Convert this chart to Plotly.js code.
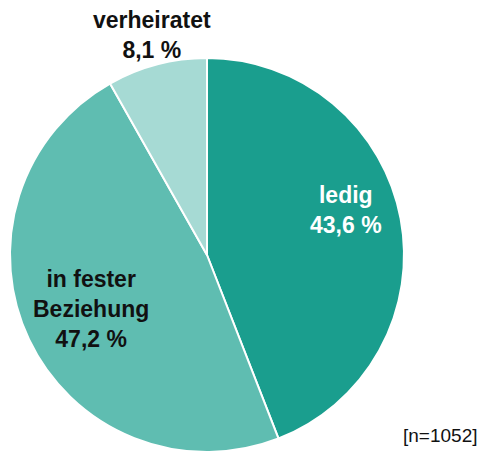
<!DOCTYPE html>
<html><head><meta charset="utf-8">
<script src="https://cdn.plot.ly/plotly-3.0.1.min.js"></script>
<style>html,body{margin:0;padding:0;background:#fff;}</style>
</head><body><div id="chart" style="width:485px;height:458px;"></div>
<script>
const categories = ["ledig", "in fester Beziehung", "verheiratet"];
const values = [43.6, 47.2, 8.1];
const labelTexts = ["ledig<br>43,6 %", "in fester<br>Beziehung<br>47,2 %", "verheiratet<br>8,1 %"];
const colors = ["#1a9e8e", "#5fbdb1", "#a6dad4"];
const labelColors = ["#ffffff", "#111111", "#111111"];
const labelPos = [[346/485, 1-210/458], [91/485, 1-309/458], [152/485, 1-35/458]];
const note = "[n=1052]";
const FONT = "'Liberation Sans', Arial, Helvetica, sans-serif";

const trace = {
  type: "pie",
  labels: categories,
  values: values,
  sort: false,
  direction: "clockwise",
  rotation: 0,
  textinfo: "none",
  hoverinfo: "label+percent",
  marker: {colors: colors, line: {color: "#ffffff", width: 2}},
  domain: {x: [10/485, 404/485], y: [6/458, 400/458]},
  showlegend: false
};

const annotations = labelTexts.map((t, i) => ({
  text: "<b>" + t + "</b>",
  x: labelPos[i][0], y: labelPos[i][1], xref: "paper", yref: "paper",
  showarrow: false, xanchor: "center", yanchor: "middle",
  font: {family: FONT, size: 23, color: labelColors[i]}
}));
annotations.push({
  text: note, x: 480/485, y: 1-435/458, xref: "paper", yref: "paper",
  showarrow: false, xanchor: "right", yanchor: "middle",
  font: {family: FONT, size: 19, color: "#111111"}
});

Plotly.newPlot("chart", [trace], {
  width: 485, height: 458,
  margin: {l: 0, r: 0, t: 0, b: 0},
  paper_bgcolor: "#ffffff",
  font: {family: FONT},
  annotations: annotations
}, {displayModeBar: false, staticPlot: true});
</script></body></html>
